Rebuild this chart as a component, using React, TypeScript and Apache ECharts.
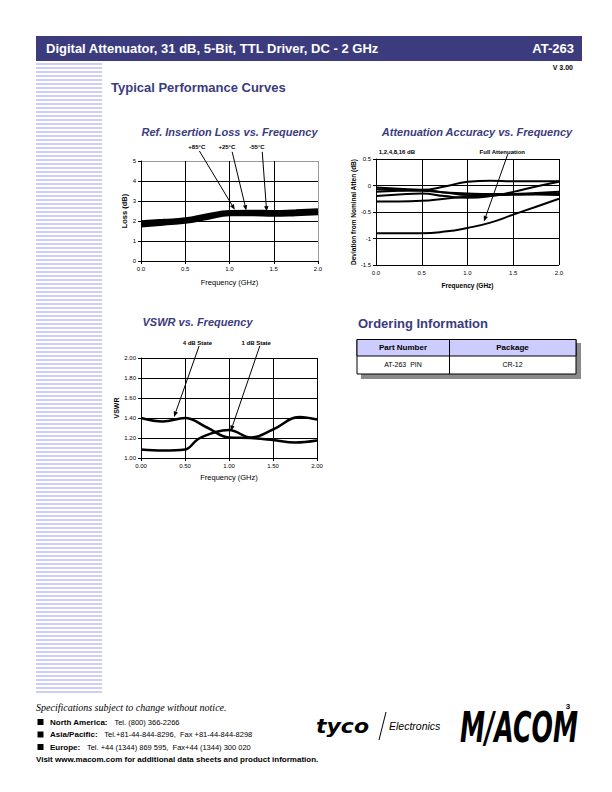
import React, { useEffect, useRef } from "react";
import * as echarts from "echarts";

const W = 612;
const H = 792;
const SANS = "'Liberation Sans', Arial, sans-serif";
const NAVY = "#3b3b7d";

// ---------- Chart 1: Ref. Insertion Loss vs. Frequency ----------
const lossFreq = [0, 0.25, 0.5, 0.75, 1.0, 1.25, 1.5, 1.75, 2.0];
const lossP85 = [1.95, 2.02, 2.1, 2.3, 2.46, 2.48, 2.46, 2.5, 2.55];
const lossP25 = [1.87, 1.94, 2.03, 2.22, 2.39, 2.41, 2.39, 2.42, 2.47];
const lossM55 = [1.76, 1.85, 1.95, 2.14, 2.32, 2.33, 2.3, 2.33, 2.38];
const lossXTicks = ["0.0", "0.5", "1.0", "1.5", "2.0"];
const lossYTicks = ["0", "1", "2", "3", "4", "5"];

// ---------- Chart 2: Attenuation Accuracy vs. Frequency ----------
const accFreq = [0, 0.25, 0.5, 0.75, 1.0, 1.25, 1.5, 1.75, 2.0];
const acc1 = [-0.04, -0.06, -0.08, -0.02, 0.07, 0.09, 0.08, 0.08, 0.08];
const acc2 = [-0.07, -0.09, -0.1, -0.13, -0.15, -0.16, -0.16, -0.14, -0.12];
const acc4 = [-0.12, -0.1, -0.09, -0.13, -0.18, -0.18, -0.17, -0.17, -0.18];
const acc8 = [-0.2, -0.17, -0.15, -0.2, -0.23, -0.2, -0.12, -0.02, 0.07];
const acc16 = [-0.3, -0.3, -0.29, -0.25, -0.21, -0.19, -0.17, -0.16, -0.15];
const accFull = [-0.9, -0.9, -0.9, -0.87, -0.8, -0.7, -0.55, -0.4, -0.25];
const accXTicks = ["0.0", "0.5", "1.0", "1.5", "2.0"];
const accYTicks = ["-1.5", "-1", "-0.5", "0", "0.5"];

// ---------- Chart 3: VSWR vs. Frequency ----------
const vswr4Freq = [0, 0.25, 0.5, 0.75, 1.0, 1.25, 1.5, 1.75, 2.0];
const vswr4 = [1.4, 1.365, 1.4, 1.305, 1.205, 1.2, 1.18, 1.155, 1.175];
const vswr1Freq = [0, 0.25, 0.5, 0.65, 0.85, 1.0, 1.25, 1.5, 1.8, 2.0];
const vswr1 = [1.085, 1.075, 1.085, 1.19, 1.26, 1.28, 1.205, 1.285, 1.41, 1.385];
const vswrXTicks = ["0.00", "0.50", "1.00", "1.50", "2.00"];
const vswrYTicks = ["1.00", "1.20", "1.40", "1.60", "1.80", "2.00"];

const zip = (xs: number[], ys: number[]) => xs.map((x, i) => [x, ys[i]]);

// annotation anchors (data coordinates of each chart)
const lossNotes = [
  { text: "+85°C", label: [0.63, 5.68], from: [0.66, 5.5], to: [1.06, 2.56] },
  { text: "+25°C", label: [0.97, 5.68], from: [1.03, 5.46], to: [1.19, 2.52] },
  { text: "-55°C", label: [1.31, 5.68], from: [1.37, 5.46], to: [1.42, 2.47] },
];
const accNotes = [
  { text: "1,2,4,8,16 dB", label: [0.03, 0.63], align: "left" },
  { text: "Full Attenuation", label: [1.38, 0.63], from: [1.44, 0.59], to: [1.18, -0.68] },
];
const vswrNotes = [
  { text: "4 dB State", label: [0.64, 2.15], from: [0.66, 2.12], to: [0.375, 1.41] },
  { text: "1 dB State", label: [1.31, 2.15], from: [1.35, 2.12], to: [1.02, 1.27] },
];

function xAxis(grid: number, ticks: string[], name: string, nameGap: number, nameBold: boolean, splitColors: string[]) {
  return {
    gridIndex: grid,
    type: "value",
    min: 0,
    max: 2,
    interval: 0.5,
    axisLine: { show: true, lineStyle: { color: "#000", width: 1 } },
    axisTick: { show: true, length: 3, lineStyle: { color: "#000" } },
    axisLabel: {
      fontSize: 6,
      color: "#000",
      fontFamily: SANS,
      margin: 5,
      formatter: (v: number) => ticks[Math.round(v / 0.5)] ?? "",
    },
    splitLine: { show: true, lineStyle: { color: splitColors, width: 1 } },
    name,
    nameLocation: "middle",
    nameGap,
    nameTextStyle: {
      fontSize: nameBold ? 6.5 : 7.5,
      fontWeight: nameBold ? "bold" : "normal",
      color: "#000",
      fontFamily: SANS,
    },
  };
}

function yAxis(grid: number, min: number, max: number, interval: number, ticks: string[], name: string, nameGap: number, nameSize: number, splitColors: string[]) {
  return {
    gridIndex: grid,
    type: "value",
    min,
    max,
    interval,
    axisLine: { show: true, lineStyle: { color: "#000", width: 1 } },
    axisTick: { show: true, length: 3, lineStyle: { color: "#000" } },
    axisLabel: {
      fontSize: 6,
      color: "#000",
      fontFamily: SANS,
      margin: 5,
      formatter: (v: number) => ticks[Math.round((v - min) / interval)] ?? "",
    },
    splitLine: { show: true, lineStyle: { color: splitColors, width: 1 } },
    name,
    nameLocation: "middle",
    nameGap,
    nameTextStyle: { fontSize: nameSize, fontWeight: "bold", color: "#000", fontFamily: SANS },
  };
}

function lineSeries(x: number, data: number[][], width: number, smooth: number | boolean = true) {
  return {
    type: "line",
    xAxisIndex: x,
    yAxisIndex: x,
    data,
    smooth,
    showSymbol: false,
    symbol: "none",
    lineStyle: { color: "#000", width },
    silent: true,
  };
}

function buildOption() {
  const B = "#000";
  const G = "#9a9a9a";
  return {
    animation: false,
    backgroundColor: "#fff",
    grid: [
      { left: 141, top: 161, width: 177, height: 100 },
      { left: 376, top: 159, width: 183, height: 106 },
      { left: 141, top: 358, width: 176, height: 100 },
    ],
    xAxis: [
      xAxis(0, lossXTicks, "Frequency (GHz)", 17, false, [B, B, B, B, G]),
      xAxis(1, accXTicks, "Frequency (GHz)", 17, true, [B, B, B, B, B]),
      xAxis(2, vswrXTicks, "Frequency (GHz)", 15, false, [B, B, B, B, B]),
    ],
    yAxis: [
      yAxis(0, 0, 5, 1, lossYTicks, "Loss (dB)", 9, 7.5, [B, B, B, B, B, G]),
      yAxis(1, -1.5, 0.5, 0.5, accYTicks, "Deviation from Nominal Atten (dB)", 15, 6.5, [B, B, B, B, B]),
      yAxis(2, 1, 2, 0.2, vswrYTicks, "VSWR", 16, 7, [B, B, B, B, B, B]),
    ],
    series: [
      lineSeries(0, zip(lossFreq, lossM55), 3.5),
      lineSeries(0, zip(lossFreq, lossP25), 3.5),
      lineSeries(0, zip(lossFreq, lossP85), 3.5),
      lineSeries(1, zip(accFreq, acc1), 2),
      lineSeries(1, zip(accFreq, acc2), 2),
      lineSeries(1, zip(accFreq, acc4), 2),
      lineSeries(1, zip(accFreq, acc8), 2),
      lineSeries(1, zip(accFreq, acc16), 2),
      lineSeries(1, zip(accFreq, accFull), 2),
      lineSeries(2, zip(vswr4Freq, vswr4), 2.5, 0.4),
      lineSeries(2, zip(vswr1Freq, vswr1), 2.5, 0.4),
    ],
  };
}

function txt(x: number, y: number, text: string, font: string, fill = "#000", align = "left", extra: any = {}) {
  return {
    type: "text",
    x,
    y,
    z: 20,
    silent: true,
    ...extra,
    style: { text, font, fill, textAlign: align, textVerticalAlign: "middle" },
  };
}

function arrow(s: number[], t: number[]) {
  const dx = t[0] - s[0];
  const dy = t[1] - s[1];
  const len = Math.sqrt(dx * dx + dy * dy) || 1;
  const ux = dx / len;
  const uy = dy / len;
  const hl = 5.5;
  const hw = 2.2;
  const bx = t[0] - ux * hl;
  const by = t[1] - uy * hl;
  return [
    {
      type: "line",
      z: 20,
      silent: true,
      shape: { x1: s[0], y1: s[1], x2: bx, y2: by },
      style: { stroke: "#000", lineWidth: 1 },
    },
    {
      type: "polygon",
      z: 20,
      silent: true,
      shape: {
        points: [
          [t[0], t[1]],
          [bx - uy * hw, by + ux * hw],
          [bx + uy * hw, by - ux * hw],
        ],
      },
      style: { fill: "#000" },
    },
  ];
}

function buildGraphic(chart: any) {
  const els: any[] = [];
  // header band
  els.push({ type: "rect", silent: true, shape: { x: 36, y: 36, width: 546, height: 25 }, style: { fill: NAVY } });
  els.push(txt(46, 48.5, "Digital Attenuator, 31 dB, 5-Bit, TTL Driver, DC - 2 GHz", `bold 13px ${SANS}`, "#fff"));
  els.push(txt(574, 48.5, "AT-263", `bold 13px ${SANS}`, "#fff", "right"));
  els.push(txt(573, 67, "V 3.00", `bold 7px ${SANS}`, "#000", "right"));
  // left stripes
  for (let y = 63; y <= 693; y += 4) {
    els.push({ type: "rect", silent: true, shape: { x: 36, y, width: 66, height: 2 }, style: { fill: "#cdcdf7" } });
  }
  els.push(txt(111, 87, "Typical Performance Curves", `bold 13px ${SANS}`, NAVY));
  // chart titles
  els.push(txt(229.5, 131.5, "Ref. Insertion Loss vs. Frequency", `italic bold 11px ${SANS}`, NAVY, "center"));
  els.push(txt(477, 131.5, "Attenuation Accuracy vs. Frequency", `italic bold 11px ${SANS}`, NAVY, "center"));
  els.push(txt(142.5, 321.5, "VSWR vs. Frequency", `italic bold 11px ${SANS}`, NAVY, "left"));

  // annotations
  const px = (g: number, p: number[]) => chart.convertToPixel({ gridIndex: g }, p) as number[];
  const noteFont = `bold 6px ${SANS}`;
  const addNotes = (g: number, notes: any[]) => {
    notes.forEach((n) => {
      const l = px(g, n.label);
      els.push(txt(l[0], l[1], n.text, noteFont, "#000", n.align || "center"));
      if (n.from && n.to) {
        els.push(...arrow(px(g, n.from), px(g, n.to)));
      }
    });
  };
  addNotes(0, lossNotes);
  addNotes(1, accNotes);
  addNotes(2, vswrNotes);

  // ordering information
  els.push(txt(358, 323, "Ordering Information", `bold 13px ${SANS}`, NAVY));
  els.push({ type: "rect", silent: true, shape: { x: 361, y: 343, width: 220, height: 36 }, style: { fill: "#8a8a8a" } });
  els.push({ type: "rect", silent: true, shape: { x: 357, y: 339.5, width: 219, height: 34.5 }, style: { fill: "#fff", stroke: "#000", lineWidth: 1 } });
  els.push({ type: "rect", silent: true, shape: { x: 357, y: 339.5, width: 219, height: 16.5 }, style: { fill: "#ccccff", stroke: "#000", lineWidth: 1 } });
  els.push({ type: "line", silent: true, shape: { x1: 449.5, y1: 339.5, x2: 449.5, y2: 374 }, style: { stroke: "#000", lineWidth: 1 } });
  els.push(txt(403, 347.5, "Part Number", `bold 8px ${SANS}`, "#000", "center"));
  els.push(txt(512.5, 347.5, "Package", `bold 8px ${SANS}`, "#000", "center"));
  els.push(txt(403, 364.5, "AT-263  PIN", `7px ${SANS}`, "#000", "center"));
  els.push(txt(512.5, 364.5, "CR-12", `7px ${SANS}`, "#000", "center"));

  // footer
  els.push(txt(36, 707, "Specifications subject to change without notice.", `italic 10px 'Liberation Serif', 'Times New Roman', serif`, "#000"));
  els.push(txt(568, 706, "3", `bold 8px ${SANS}`, "#000", "center"));
  const contacts = [
    ["North America:", "Tel. (800) 366-2266"],
    ["Asia/Pacific:", "Tel.+81-44-844-8296,  Fax +81-44-844-8298"],
    ["Europe:", "Tel. +44 (1344) 869 595,  Fax+44 (1344) 300 020"],
  ];
  contacts.forEach((c, i) => {
    const y = 722 + i * 12.5;
    els.push({ type: "rect", silent: true, shape: { x: 37.5, y: y - 3, width: 6, height: 6 }, style: { fill: "#000" } });
    els.push({
      type: "text",
      x: 50,
      y,
      silent: true,
      style: {
        text: `{b|${c[0]}}  {r|${c[1]}}`,
        textVerticalAlign: "middle",
        rich: {
          b: { fontFamily: SANS, fontWeight: "bold", fontSize: 8, fill: "#000" },
          r: { fontFamily: SANS, fontWeight: "normal", fontSize: 7.5, fill: "#000" },
        },
      },
    });
  });
  els.push(txt(36, 759, "Visit www.macom.com for additional data sheets and product information.", `bold 8px ${SANS}`, "#000"));

  // tyco | Electronics logo
  els.push(txt(316, 726, "tyco", `italic bold 20px 'DejaVu Sans', sans-serif`, "#000", "left", { scaleX: 1.1 }));
  els.push({ type: "line", silent: true, shape: { x1: 386, y1: 712, x2: 379, y2: 740 }, style: { stroke: "#000", lineWidth: 1 } });
  els.push(txt(389, 726, "Electronics", `italic 10.5px ${SANS}`, "#000"));
  // M/A-COM logo
  els.push(txt(460, 727, "M/ACOM", `italic bold 42px 'DejaVu Sans', sans-serif`, "#000", "left", { scaleX: 0.6 }));

  return els;
}

export default function App() {
  const ref = useRef<HTMLDivElement>(null);
  useEffect(() => {
    document.body.style.margin = "0";
    const chart = echarts.init(ref.current!, null, { renderer: "svg", width: W, height: H });
    chart.setOption(buildOption() as any);
    chart.setOption({ graphic: { elements: buildGraphic(chart) } } as any);
    return () => chart.dispose();
  }, []);
  return <div ref={ref} style={{ width: W, height: H, position: "absolute", left: 0, top: 0, background: "#fff" }} />;
}
